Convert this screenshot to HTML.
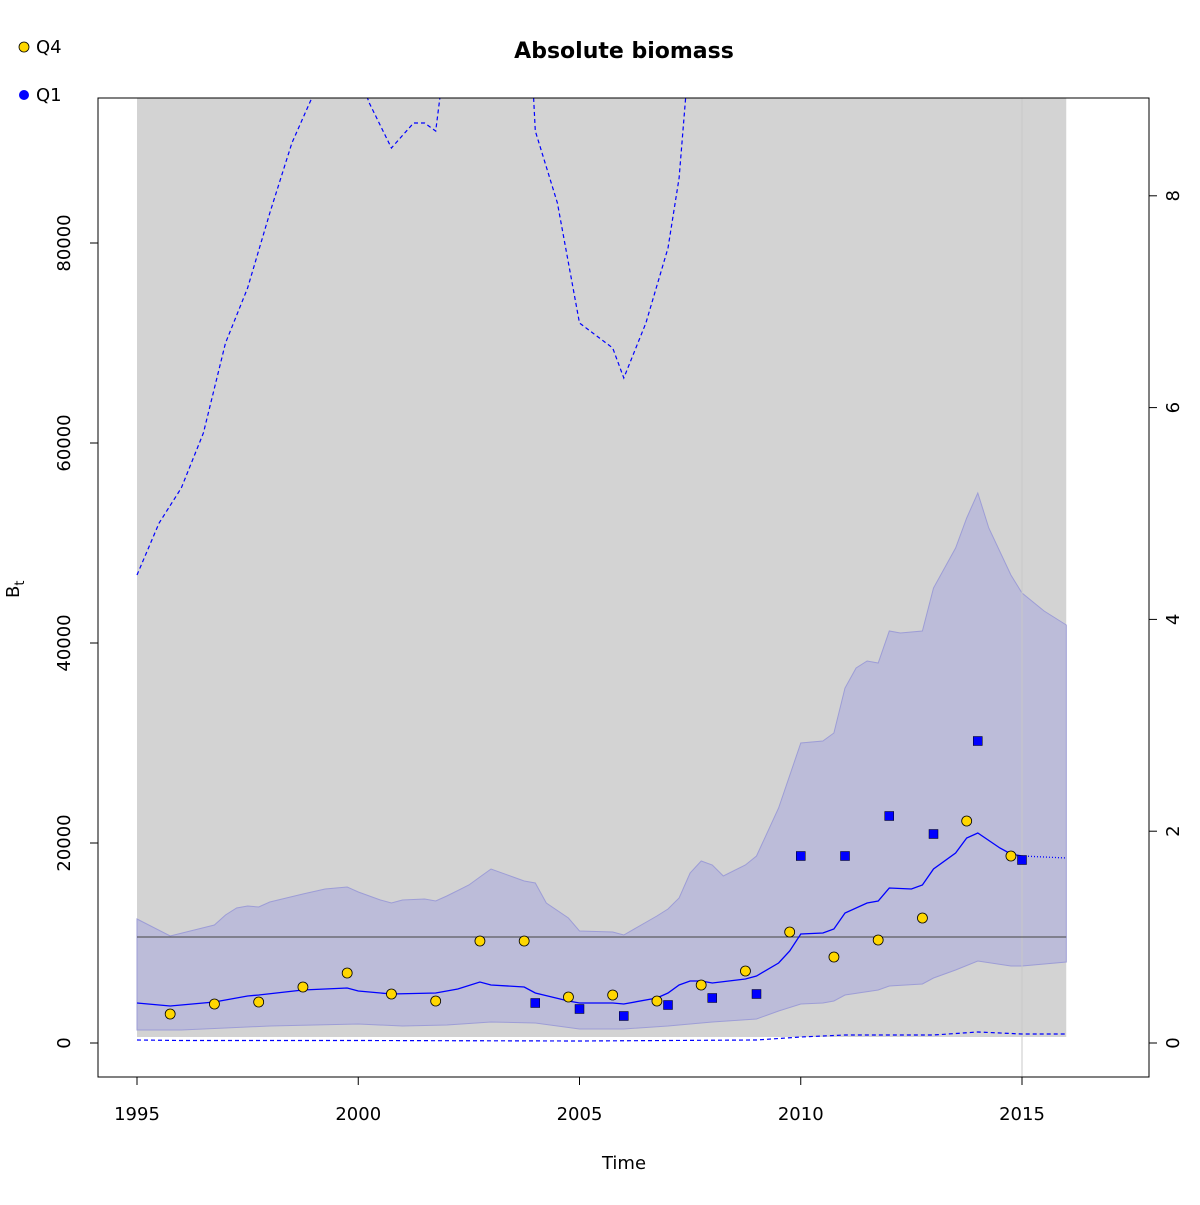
<!DOCTYPE html>
<html><head><meta charset="utf-8"><style>
body{margin:0;background:#fff}
svg text{font-family:"DejaVu Sans","Liberation Sans",sans-serif;fill:#000}
</style></head><body>
<svg id="chart" width="1200" height="1200" xmlns="http://www.w3.org/2000/svg">
<defs><clipPath id="clip"><rect x="98" y="98" width="1051" height="979"/></clipPath></defs>
<g id="plot" clip-path="url(#clip)"></g>
<rect x="98" y="98" width="1051" height="979" fill="none" stroke="#000"/>
<g id="axes"></g>
<text x="624" y="58" text-anchor="middle" font-size="22" font-weight="bold">Absolute biomass</text>
<text x="624" y="1169" text-anchor="middle" font-size="18">Time</text>
<text transform="translate(19,598) rotate(-90)" font-size="18">B<tspan font-size="13" dy="5">t</tspan></text>
<g>
<circle cx="24" cy="47" r="5" fill="#ffd700" stroke="#000" stroke-width="0.8"/>
<text x="36" y="53" font-size="18">Q4</text>
<circle cx="24" cy="95" r="5" fill="#0000ff"/>
<text x="36" y="101" font-size="18">Q1</text>
</g>
</svg>
<script>
const medT=[1995,1995.75,1996.75,1997.5,1997.75,1998.75,1999.75,2000,2000.75,2001.75,2002.25,2002.75,2003,2003.75,2004,2004.75,2005,2005.75,2006,2006.75,2007,2007.25,2007.5,2007.75,2008,2008.75,2009,2009.5,2009.75,2010,2010.5,2010.75,2011,2011.5,2011.75,2012,2012.5,2012.75,2013,2013.5,2013.75,2014,2014.5,2014.75,2015];
const medV=[4000,3700,4100,4700,4800,5300,5500,5200,4900,5000,5400,6100,5800,5600,5000,4200,4000,4000,3900,4500,5000,5800,6200,6200,6000,6400,6700,8000,9200,10900,11000,11400,13000,14000,14200,15500,15400,15800,17400,19000,20500,21000,19500,18900,18700];
const predT=[2015,2016];
const predV=[18700,18500];
const upT=[1995,1995.75,1996.75,1997,1997.25,1997.5,1997.75,1998,1998.75,1999.25,1999.75,2000,2000.5,2000.75,2001,2001.5,2001.75,2002,2002.5,2002.75,2003,2003.5,2003.75,2004,2004.25,2004.75,2005,2005.75,2006,2006.75,2007,2007.25,2007.5,2007.75,2008,2008.25,2008.75,2009,2009.5,2010,2010.5,2010.75,2011,2011.25,2011.5,2011.75,2012,2012.25,2012.75,2013,2013.5,2013.75,2014,2014.25,2014.75,2015,2015.5,2016];
const upV=[12400,10700,11800,12800,13500,13700,13600,14100,14900,15400,15600,15100,14300,14000,14300,14400,14200,14700,15800,16600,17400,16600,16200,16000,14000,12500,11200,11100,10800,12700,13400,14500,17000,18200,17800,16700,17800,18700,23500,30000,30200,31000,35500,37500,38200,38000,41200,41000,41200,45500,49500,52500,55000,51500,46800,45000,43200,41800];
const loT=[1995,1996,1997,1998,1999,2000,2001,2002,2003,2004,2005,2006,2007,2008,2009,2009.5,2010,2010.5,2010.75,2011,2011.75,2012,2012.75,2013,2013.5,2014,2014.75,2015,2016];
const loV=[1300,1300,1500,1700,1800,1900,1700,1800,2100,2000,1400,1400,1700,2100,2400,3200,3900,4000,4200,4800,5300,5700,5900,6500,7300,8200,7700,7700,8100];
const dUpT=[1995,1995.5,1996,1996.5,1997,1997.5,1998,1998.5,1999,1999.5,2000,2000.25,2000.75,2001.25,2001.5,2001.75,2002,2003.9,2004,2004.5,2005,2005.75,2006,2006.5,2007,2007.25,2007.5];
const dUpV=[46800,52000,55500,61000,70000,75500,83000,90000,95000,98000,97000,94000,89500,92000,92000,91200,100000,100000,91200,84000,72000,69500,66500,72000,79500,86500,100000];
const dLoT=[1995,1996,2000,2005,2009,2010,2011,2012,2013,2014,2015,2016];
const dLoV=[300,250,250,200,300,600,800,800,800,1100,900,900];
const q4T=[1995.75,1996.75,1997.75,1998.75,1999.75,2000.75,2001.75,2002.75,2003.75,2004.75,2005.75,2006.75,2007.75,2008.75,2009.75,2010.75,2011.75,2012.75,2013.75,2014.75];
const q4V=[2900,3900,4100,5600,7000,4900,4200,10200,10200,4600,4800,4200,5800,7200,11100,8600,10300,12500,22200,18700];
const q1T=[2004,2005,2006,2007,2008,2009,2010,2011,2012,2013,2014,2015];
const q1V=[4000,3400,2700,3800,4500,4900,18700,18700,22700,20900,30200,18300];
const xTicks=[1995,2000,2005,2010,2015];
const yTicks=[0,20000,40000,60000,80000];
const y2Ticks=[0,2,4,6,8];
const refLine=10600;
const greyBottom=600;

const sx=t=>137+(t-1995)*44.25;
const sy=v=>1043-v*0.01;
const sy2=v=>1043-v*105.9;
const NS='http://www.w3.org/2000/svg';
const plot=document.getElementById('plot'),axes=document.getElementById('axes');
function mk(tag,attrs,parent){const e=document.createElementNS(NS,tag);for(const k in attrs)e.setAttribute(k,attrs[k]);parent.appendChild(e);return e;}
function pts(T,V){return T.map((t,i)=>sx(t).toFixed(1)+','+sy(V[i]).toFixed(1)).join(' ');}

let g=mk('rect',{x:sx(1995),y:0,width:sx(2016)-sx(1995),height:sy(greyBottom),fill:'#d3d3d3'},plot);


let band=mk('polygon',{points:pts(upT,upV)+' '+pts(loT.slice().reverse(),loV.slice().reverse()),fill:'#bcbcd9',stroke:'#9d9dd6','stroke-width':1},plot);


let vl=mk('line',{x1:sx(2015),x2:sx(2015),y1:98,y2:1077,stroke:'#c8c8c8','stroke-width':1},plot);


let hl=mk('line',{x1:sx(1995),x2:sx(2016),y1:sy(refLine),y2:sy(refLine),stroke:'#444','stroke-width':1},plot);


let du=mk('polyline',{points:pts(dUpT,dUpV),fill:'none',stroke:'#0000ff','stroke-width':1.2,'stroke-dasharray':'4,3'},plot);


let dl=mk('polyline',{points:pts(dLoT,dLoV),fill:'none',stroke:'#0000ff','stroke-width':1.2,'stroke-dasharray':'4,3'},plot);


let ml=mk('polyline',{points:pts(medT,medV),fill:'none',stroke:'#0000ff','stroke-width':1.3},plot);


let pl=mk('polyline',{points:pts(predT,predV),fill:'none',stroke:'#0000ff','stroke-width':1.3,'stroke-dasharray':'1,2'},plot);


q4T.forEach((t,i)=>{const c=mk('circle',{cx:sx(t),cy:sy(q4V[i]),r:5,fill:'#ffd700',stroke:'#000','stroke-width':0.8},plot);

});
q1T.forEach((t,i)=>{const r=mk('rect',{x:sx(t)-4.5,y:sy(q1V[i])-4.5,width:9,height:9,fill:'#0000ff',stroke:'#000','stroke-width':0.5},plot);

});

xTicks.forEach(t=>{mk('line',{x1:sx(t),x2:sx(t),y1:1077,y2:1085,stroke:'#000'},axes);
const tx=mk('text',{x:sx(t),y:1120,'text-anchor':'middle','font-size':18},axes);tx.textContent=t;

});
yTicks.forEach(v=>{mk('line',{x1:90,x2:98,y1:sy(v),y2:sy(v),stroke:'#000'},axes);
const tx=mk('text',{transform:`translate(70,${sy(v)}) rotate(-90)`,'text-anchor':'middle','font-size':18},axes);tx.textContent=v;

});
y2Ticks.forEach(v=>{mk('line',{x1:1149,x2:1157,y1:sy2(v),y2:sy2(v),stroke:'#000'},axes);
const tx=mk('text',{transform:`translate(1179,${sy2(v)}) rotate(-90)`,'text-anchor':'middle','font-size':18},axes);tx.textContent=v;

});
</script>
</body></html>
